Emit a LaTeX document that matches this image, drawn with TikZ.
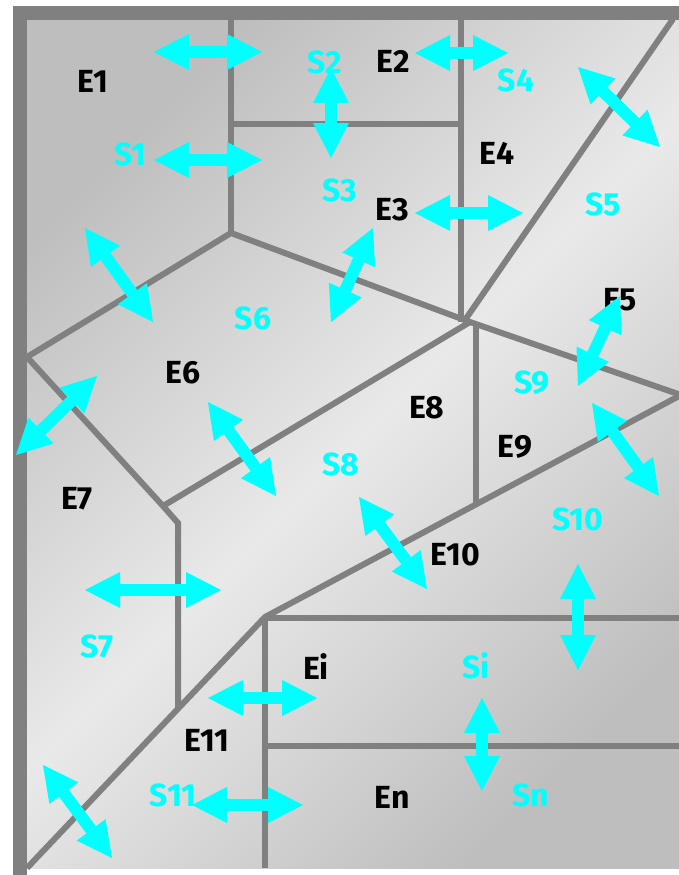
\documentclass[tikz,border=0pt]{standalone}
\usepackage{fontspec}
\setmainfont{Fira Sans}
\usetikzlibrary{arrows.meta}
\definecolor{wallgray}{HTML}{808080}
\definecolor{lblcyan}{HTML}{00FFFF}
\definecolor{shadeDark}{HTML}{BEBEBE}
\definecolor{shadeLight}{HTML}{E9E9E9}
\begin{document}
\begin{tikzpicture}[
    x=1pt, y=-1pt,
    wall/.style={draw=wallgray, line width=6pt, line join=miter},
    frame/.style={draw=wallgray, line width=14pt},
    tip/.tip={Triangle[width=36pt, length=35pt, line width=0pt]},
    dbl/.style={draw=lblcyan, line width=12pt, tip-tip},
    elbl/.style={font=\fontsize{32}{38}\selectfont\bfseries, text=black},
    slbl/.style={font=\fontsize{32}{38}\selectfont\bfseries, text=lblcyan},
]
\useasboundingbox (0,0) rectangle (679,875);
\begin{scope}
\clip (0,0) rectangle (679,875);

% Background shading
\shade[top color=shadeDark, bottom color=shadeDark, middle color=shadeLight,
    shading angle=45] (27,19) rectangle (686,868);

% Inner walls
\draw[wall] (231,19) -- (231,233);
\draw[wall] (231,124) -- (461,124);
\draw[wall] (461,19) -- (461,322);
\draw[wall] (673,19) -- (465,320);
\draw[wall] (27,357) -- (231,233) -- (470,322) -- (681,395);
\draw[wall] (27,357) -- (163,506) -- (178,523) -- (178,708);
\draw[wall] (163,506) -- (470,322);
\draw[wall] (476,322) -- (476,504);
\draw[wall] (681,395) -- (265,617) -- (27,868);
\draw[wall] (265,617) -- (265,868);
\draw[wall] (265,618) -- (686,618);
\draw[wall] (265,746) -- (686,746);

% Outer frame
\draw[frame] (20,13) rectangle (693,882);
\end{scope}

% Zone labels
\node[elbl] (e1) at (93,81) {E1};
\node[elbl] (e2) at (393,61) {E2};
\node[elbl] (e3) at (392,210) {E3};
\node[elbl] (e4) at (497,153) {E4};
\node[elbl] (e5) at (620,300) {E5};
\node[elbl] (e6) at (183,373) {E6};
\node[elbl] (e7) at (77,499) {E7};
\node[elbl] (e8) at (427,408) {E8};
\node[elbl] (e9) at (515,447) {E9};
\node[elbl] (e10) at (455,555) {E10};
\node[elbl] (e11) at (207,740) {E11};
\node[elbl] (ei) at (316,667) {Ei};
\node[elbl] (en) at (392,797) {En};

% Boundary labels
\node[slbl] (s1) at (130,154) {S1};
\node[slbl] (s2) at (325,62) {S2};
\node[slbl] (s3) at (340,190) {S3};
\node[slbl] (s4) at (516,80) {S4};
\node[slbl] (s5) at (603,204) {S5};
\node[slbl] (s6) at (253,318) {S6};
\node[slbl] (s7) at (97,646) {S7};
\node[slbl] (s8) at (341,464) {S8};
\node[slbl] (s9) at (532,383) {S9};
\node[slbl] (s10) at (578,519) {S10};
\node[slbl] (s11) at (173,795) {S11};
\node[slbl] (si) at (476,666) {Si};
\node[slbl] (sn) at (531,795) {Sn};

% Exchange arrows
\draw[dbl] (154,52) -- (262,52);
\draw[dbl] (154,160) -- (262,160);
\draw[dbl] (331,68) -- (331,158);
\draw[dbl] (415,53) -- (508,53);
\draw[dbl] (578,67) -- (660,147);
\draw[dbl] (415,213) -- (523,213);
\draw[dbl] (373,228) -- (331,322);
\draw[dbl] (85,228) -- (153,322);
\draw[dbl] (620,296) -- (578,386);
\draw[dbl] (592,403) -- (659,496);
\draw[dbl] (578,564) -- (578,670);
\draw[dbl] (482,698) -- (482,791);
\draw[dbl] (359,497) -- (427,589);
\draw[dbl] (208,402) -- (276,496);
\draw[dbl] (97,376) -- (16,455);
\draw[dbl] (85,590) -- (221,590);
\draw[dbl] (208,698) -- (317,698);
\draw[dbl] (192,805) -- (303,805);
\draw[dbl] (43,765) -- (112,858);
\end{tikzpicture}
\end{document}
